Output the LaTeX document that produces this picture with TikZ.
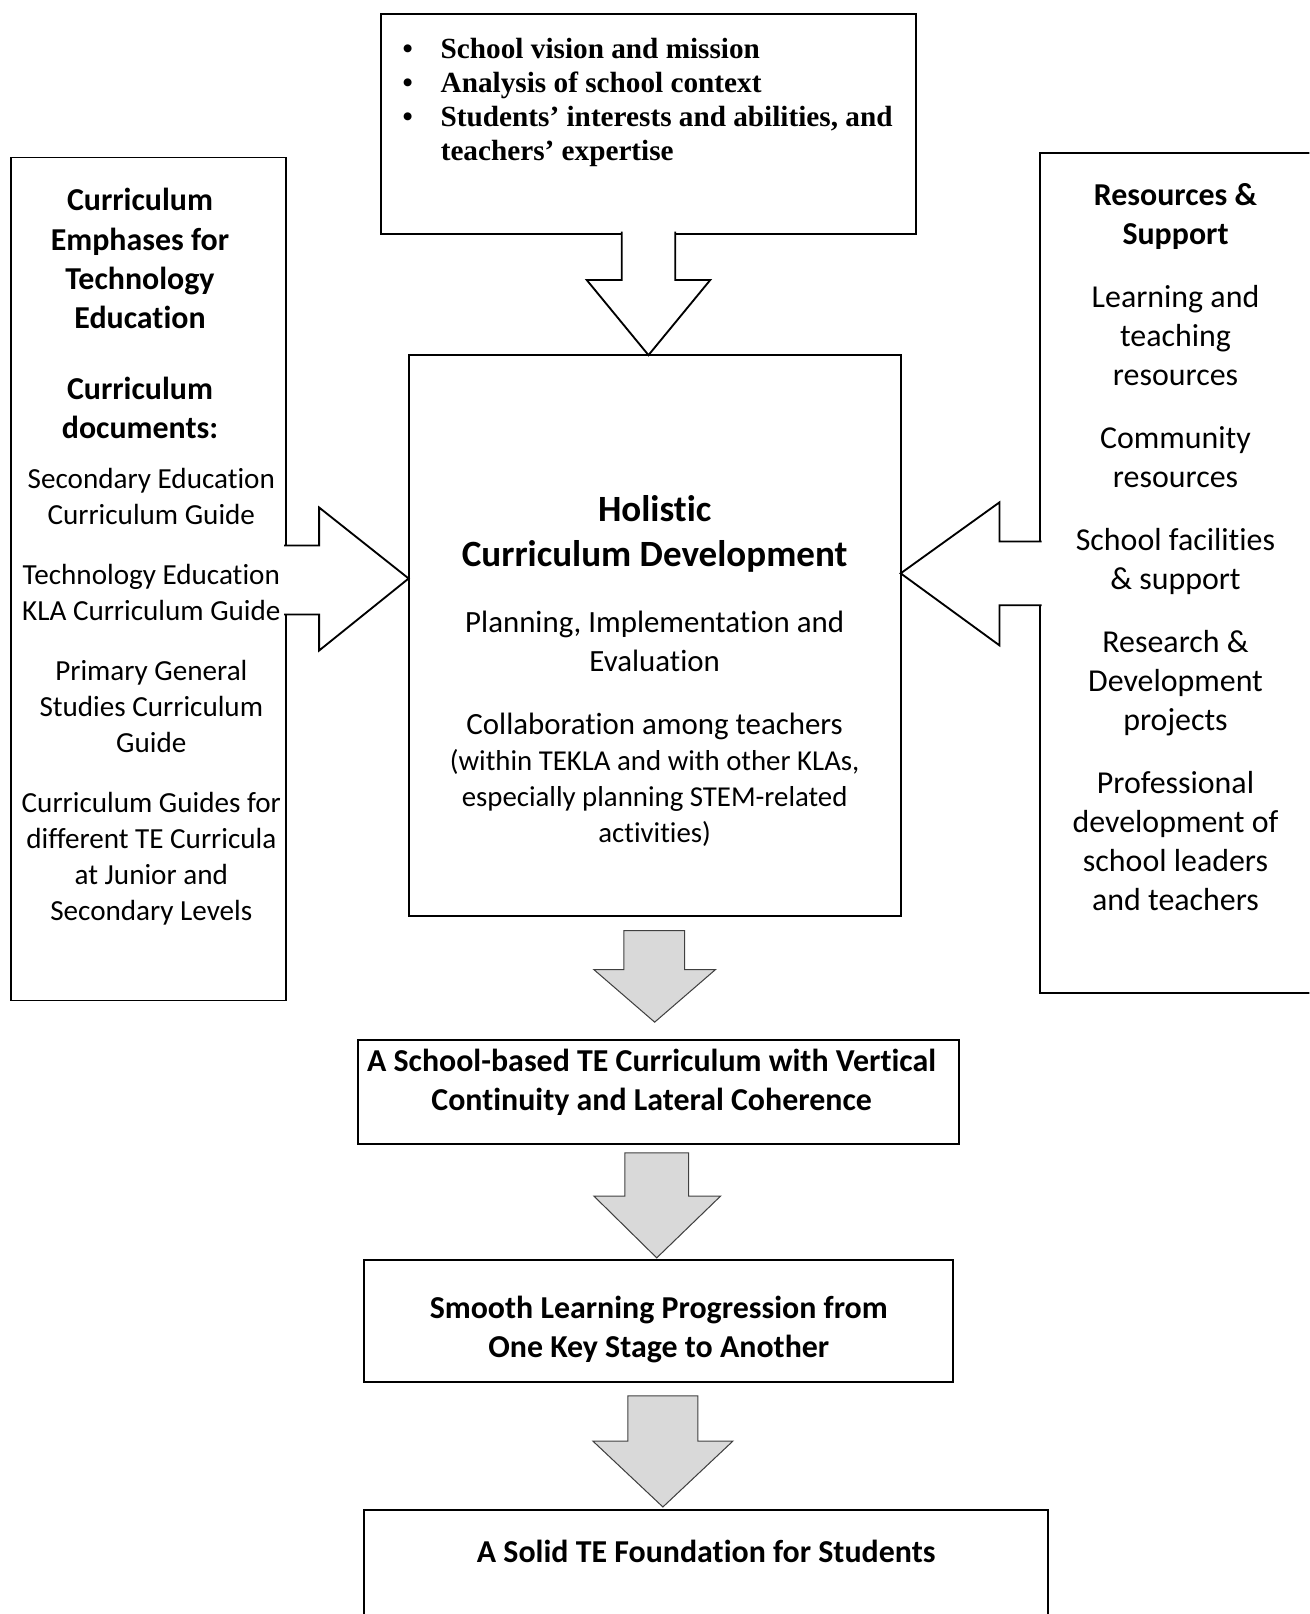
\documentclass[tikz,border=0pt]{standalone}
\usepackage{fontspec}
\setmainfont{Carlito}[Ligatures=NoCommon]
\newfontfamily\timesbold{Liberation Serif}

\definecolor{arrowgray}{HTML}{D9D9D9}

\tikzset{
  box/.style={draw, line width=1.8pt, inner sep=0pt},
  bodytext/.style={align=center, inner sep=0pt, anchor=north, font=\fontsize{28}{35}\selectfont},
  bigtext/.style={align=center, inner sep=0pt, anchor=north, font=\fontsize{31}{38}\selectfont},
  headtext/.style={align=center, inner sep=0pt, anchor=north, font=\bfseries\fontsize{31}{38}\selectfont},
  outarrow/.style={draw, line width=1.8pt, fill=white},
  grayarrow/.style={draw=black!75, line width=1pt, fill=arrowgray},
}

\begin{document}
\begin{tikzpicture}[x=1pt,y=-1pt]
    \useasboundingbox (0,0) rectangle (1272,1568);
    \clip (0,0) rectangle (1272,1568);

    % boxes
    \path ( 630, 120.5) node [box, minimum width=520pt, minimum height=213pt] (vision) {};
    \path ( 144.5, 562.5) node [box, minimum width=267pt, minimum height=819pt] (emphases) {};
    \path ( 636, 617.5) node [box, minimum width=478pt, minimum height=545pt] (hcd) {};
    \path (1155, 557) node [box, minimum width=290pt, minimum height=816pt] (resources) {};
    \path ( 640,1060.5) node [box, minimum width=584pt, minimum height=101pt] (schoolcurr) {};
    \path ( 640,1283.5) node [box, minimum width=572pt, minimum height=119pt] (progression) {};
    \path ( 686,1533.5) node [box, minimum width=664pt, minimum height=133pt] (foundation) {};

    % block arrows into the middle box
    \draw [outarrow] (604,225) -- (604,272) -- (570,272) -- (630,345) -- (690,272) -- (656,272) -- (656,225);
    \draw [outarrow] (276,530) -- (310,530) -- (310,493) -- (397,562) -- (310,632) -- (310,597) -- (276,597);
    \draw [outarrow] (1012,526) -- (971,526) -- (971,488) -- (875,557) -- (971,627) -- (971,588) -- (1012,588);

    % block arrows down the chain
    \draw [grayarrow] (606,904) -- (665,904) -- (665,942) -- (695,942) -- (636,993) -- (577,942) -- (606,942) -- cycle;
    \draw [grayarrow] (607,1120) -- (669,1120) -- (669,1162) -- (700,1162) -- (638,1222) -- (577,1162) -- (607,1162) -- cycle;
    \draw [grayarrow] (610,1356) -- (678,1356) -- (678,1400) -- (712,1400) -- (644,1464) -- (576,1400) -- (610,1400) -- cycle;

    % texts
    \path (391,37) node [anchor=north west, inner sep=0pt, align=left, font=\timesbold\bfseries\fontsize{28.4}{33}\selectfont] (visiontext)
        {\makebox[37pt][l]{\textbullet}School vision and mission\\
         \makebox[37pt][l]{\textbullet}Analysis of school context\\
         \makebox[37pt][l]{\textbullet}Students’ interests and abilities, and\\
         \hspace*{37pt}teachers’ expertise};

    \path (136,183) node [headtext] (emphhead)
        {Curriculum\\Emphases for\\Technology\\Education\\[31pt]Curriculum\\documents:};
    \path (147,455) node [bodytext, font=\fontsize{28.3}{35}\selectfont] (docs)
        {Secondary Education\\Curriculum Guide\\[23pt]Technology Education\\KLA Curriculum Guide\\[23pt]%
         Primary General\\Studies Curriculum\\Guide\\[23pt]Curriculum Guides for\\different TE Curricula\\%
         at Junior and\\Secondary Levels};

    \path (1142,178) node [bigtext] (restext)
        {\textbf{Resources \&}\\\textbf{Support}\\[23pt]Learning and\\teaching\\resources\\[23pt]%
         Community\\resources\\[23pt]School facilities\\\& support\\[23pt]Research \&\\Development\\projects\\[23pt]%
         Professional\\development of\\school leaders\\and teachers};

    \path (636,481) node [align=center, inner sep=0pt, anchor=north, font=\bfseries\fontsize{36}{44}\selectfont] (hcdtitle)
        {Holistic\\Curriculum Development};
    \path (636,593) node [align=center, inner sep=0pt, anchor=north, font=\fontsize{30}{38}\selectfont] (planning)
        {Planning, Implementation and\\Evaluation};
    \path (636,693) node [align=center, inner sep=0pt, anchor=north, font=\fontsize{30}{38}\selectfont] (collab)
        {Collaboration among teachers};
    \path (636,728) node [bodytext] (within)
        {(within TEKLA and with other KLAs,\\especially planning STEM-related\\activities)};

    \path (633,1019) node [headtext] (schoolcurrtext)
        {A School-based TE Curriculum with Vertical\\Continuity and Lateral Coherence};
    \path (640,1259) node [headtext] (progtext)
        {Smooth Learning Progression from\\One Key Stage to Another};
    \path (686,1496) node [headtext] (foundtext)
        {A Solid TE Foundation for Students};
\end{tikzpicture}
\end{document}
